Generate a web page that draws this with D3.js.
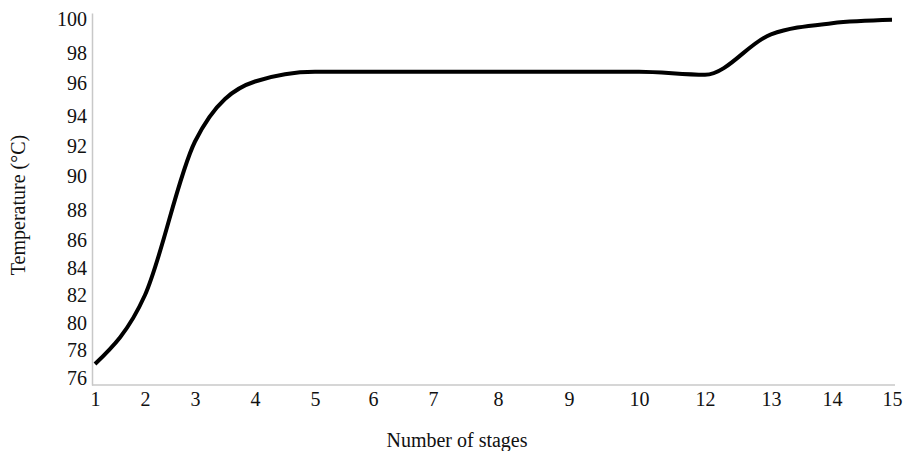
<!DOCTYPE html>
<html>
<head>
<meta charset="utf-8">
<script src="https://cdn.jsdelivr.net/npm/d3@7"></script>
<style>
  body { margin: 0; background: #fff; }
  svg { display: block; }
  text { font-family: "Liberation Serif", "Times New Roman", serif; fill: #111; }
</style>
</head>
<body>
<figure id="chart" style="margin:0"></figure>
<script>
// data
const stages = ["1", "2", "3", "4", "5", "6", "7", "8", "9", "10", "12", "13", "14", "15"];
const temperature = [77.0, 82.0, 92.3, 96.1, 96.75, 96.75, 96.75, 96.75, 96.75, 96.75, 96.55, 99.1, 99.75, 99.95];
const yTicks = [76, 78, 80, 82, 84, 86, 88, 90, 92, 94, 96, 98, 100];

const width = 905, height = 451;

const svg = d3.select("figure#chart")
  .append("svg")
  .attr("width", width)
  .attr("height", height);

// the axes of the original are not evenly spaced, so both scales are piecewise
const x = d3.scaleOrdinal()
  .domain(stages)
  .range([95, 145, 195, 255, 315, 373, 433, 498, 569, 639, 705, 771, 832, 892]);

const y = d3.scaleLinear()
  .domain([75.5].concat(yTicks, [100.4]))
  .range([385, 378, 350, 323, 295, 268, 240, 210, 176, 146, 116, 83, 53, 19, 13]);

// Add X axis
const xAxis = svg.append("g")
  .attr("transform", "translate(0,385)")
  .call(d3.axisBottom(x).tickSize(0).tickPadding(7))
  .attr("font-size", 20)
  .attr("font-family", "'Liberation Serif', serif");
xAxis.select(".domain").remove();
xAxis.append("line")
  .attr("x1", 92).attr("x2", 895)
  .attr("stroke", "#c8c8c8").attr("stroke-width", 1.5);
xAxis.selectAll(".tick text").attr("fill", "#111");

// Add Y axis
const yAxis = svg.append("g")
  .attr("transform", "translate(92,0)")
  .call(d3.axisLeft(y).tickValues(yTicks).tickSize(0).tickPadding(5))
  .attr("font-size", 20)
  .attr("font-family", "'Liberation Serif', serif");
yAxis.select(".domain")
  .attr("stroke", "#c8c8c8").attr("stroke-width", 1.5);
yAxis.selectAll(".tick text").attr("fill", "#111");

// Add line
const line = d3.line()
  .x((d, i) => x(stages[i]))
  .y(d => y(d))
  .curve(d3.curveMonotoneX);

svg.append("path")
  .datum(temperature)
  .attr("d", line)
  .attr("fill", "none")
  .attr("stroke", "#000")
  .attr("stroke-width", 4)
  .attr("stroke-linecap", "butt");

// Axis titles
svg.append("text")
  .attr("transform", "translate(25,205) rotate(-90)")
  .attr("text-anchor", "middle")
  .style("font-size", "20px")
  .text("Temperature (°C)");

svg.append("text")
  .attr("x", 457)
  .attr("y", 447)
  .attr("text-anchor", "middle")
  .style("font-size", "20px")
  .text("Number of stages");
</script>
</body>
</html>
